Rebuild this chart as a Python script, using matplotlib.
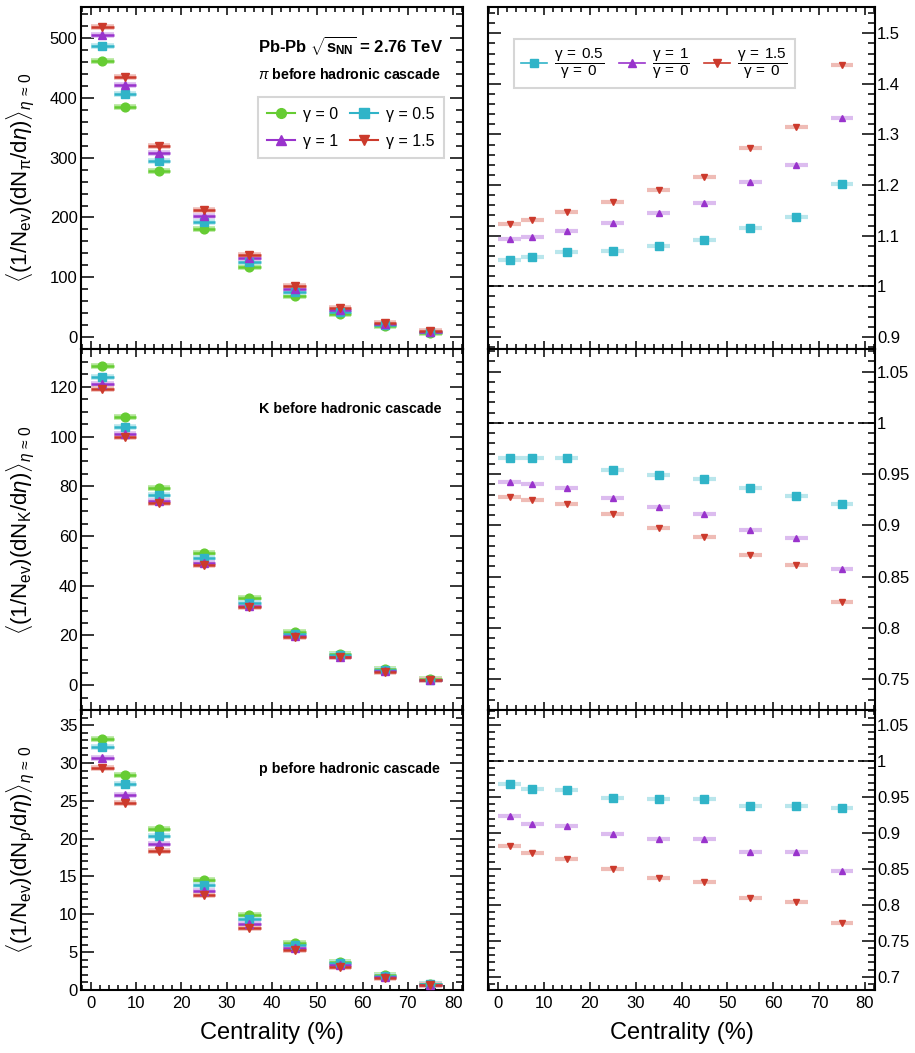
import numpy as np
import matplotlib
matplotlib.use('Agg')
import matplotlib.pyplot as plt
from matplotlib.ticker import MultipleLocator, FuncFormatter
from matplotlib.lines import Line2D

plt.rcParams['font.family'] = ['Liberation Sans', 'DejaVu Sans']
plt.rcParams['mathtext.fontset'] = 'custom'
plt.rcParams['mathtext.rm'] = 'Liberation Sans'
plt.rcParams['mathtext.it'] = 'Liberation Sans:italic'
plt.rcParams['mathtext.bf'] = 'Liberation Sans:bold'

# centrality bin centres (%) and half width of the drawn bins
centrality = np.array([2.5, 7.5, 15, 25, 35, 45, 55, 65, 75])
half_width = 2.5

gamma_labels = ['0', '0.5', '1', '1.5']
colors = ['#66cc33', '#30b4c8', '#9933cc', '#cc3a2c']
light_colors = ['#b3e699', '#b9e6ec', '#dcbcef', '#efbcb6']
markers = ['o', 's', '^', 'v']

# pion yields, gamma = 0, 0.5, 1, 1.5
pion = [
    [462, 385, 278, 181, 117, 69, 38.5, 18.9, 6.5],
    [486, 406, 295, 192, 125, 75, 42.3, 20.6, 7.8],
    [505, 422, 308, 203, 132, 80, 45.6, 22.2, 8.6],
    [519, 435, 319, 212, 137, 85, 48.5, 23.4, 9.4],
]
# kaon yields
kaon = [
    [128.4, 108.0, 79.4, 53.2, 34.9, 21.4, 12.5, 6.3, 2.3],
    [124.0, 103.9, 76.4, 51.0, 32.9, 20.4, 12.0, 5.9, 2.2],
    [121.0, 101.2, 74.1, 49.2, 31.8, 19.7, 11.5, 5.7, 2.05],
    [119.3, 99.9, 73.1, 48.5, 31.3, 19.4, 11.2, 5.4, 1.95],
]
# proton yields
proton = [
    [33.2, 28.4, 21.3, 14.6, 9.9, 6.25, 3.75, 1.95, 0.8],
    [32.1, 27.2, 20.4, 13.9, 9.4, 5.95, 3.55, 1.85, 0.75],
    [30.6, 25.8, 19.3, 13.1, 8.7, 5.5, 3.3, 1.7, 0.7],
    [29.3, 24.7, 18.4, 12.5, 8.2, 5.3, 3.1, 1.6, 0.62],
]

# ratios to gamma = 0 (gamma = 0.5, 1, 1.5)
pion_ratio = [
    [1.052, 1.058, 1.068, 1.070, 1.079, 1.091, 1.115, 1.137, 1.202],
    [1.093, 1.097, 1.110, 1.126, 1.144, 1.164, 1.207, 1.240, 1.332],
    [1.123, 1.131, 1.146, 1.166, 1.190, 1.215, 1.273, 1.315, 1.438],
]
kaon_ratio = [
    [0.966, 0.9656, 0.966, 0.954, 0.949, 0.9457, 0.936, 0.929, 0.921],
    [0.9427, 0.9405, 0.9366, 0.9266, 0.918, 0.9116, 0.8954, 0.8876, 0.8573],
    [0.928, 0.9252, 0.921, 0.9112, 0.8973, 0.8888, 0.871, 0.8615, 0.8252],
]
proton_ratio = [
    [0.968, 0.961, 0.9596, 0.949, 0.947, 0.947, 0.937, 0.937, 0.9346],
    [0.9234, 0.912, 0.9095, 0.8988, 0.8919, 0.891, 0.8738, 0.8733, 0.8465],
    [0.8817, 0.8724, 0.8632, 0.850, 0.8372, 0.832, 0.8098, 0.8042, 0.7742],
]

W, H = 915, 1053
fig = plt.figure(figsize=(W / 100, H / 100), dpi=100)


def box(x0, y0, x1, y1):
    return [x0 / W, 1 - y1 / H, (x1 - x0) / W, (y1 - y0) / H]


rows = [(7, 349), (349, 710), (710, 990)]
axes = []
for (y0, y1) in rows:
    axl = fig.add_axes(box(81, y0, 463, y1))
    axr = fig.add_axes(box(488, y0, 875, y1))
    axes.append((axl, axr))

fmt = FuncFormatter(lambda v, p: '%g' % round(v, 3))


def style(ax, ylim, major, minor, right, bottom):
    ax.set_xlim(-2.2, 82.2)
    ax.set_ylim(*ylim)
    ax.xaxis.set_major_locator(MultipleLocator(10))
    ax.xaxis.set_minor_locator(MultipleLocator(2))
    ax.yaxis.set_major_locator(MultipleLocator(major))
    ax.yaxis.set_minor_locator(MultipleLocator(minor))
    ax.yaxis.set_major_formatter(fmt)
    ax.tick_params(which='both', direction='in', top=True, bottom=True,
                   left=True, right=True, width=1.1, colors='black',
                   labelsize=12)
    ax.tick_params(axis='y', which='major', length=9.5, pad=2.5)
    ax.tick_params(axis='y', which='minor', length=5)
    ax.tick_params(axis='x', which='major', length=6, pad=4.5)
    ax.tick_params(axis='x', which='minor', length=3.5)
    if right:
        ax.tick_params(axis='y', labelleft=False, labelright=True, pad=1.5)
    if not bottom:
        ax.tick_params(axis='x', labelbottom=False)
    else:
        ax.set_xlabel('Centrality (%)', fontsize=17, labelpad=8)
    for s in ax.spines.values():
        s.set_linewidth(1.5)


def draw_yields(ax, data, ms):
    for i in range(4):
        y = np.array(data[i])
        ax.hlines(y, centrality - half_width, centrality + half_width,
                  color=light_colors[i], lw=4, zorder=2)
        ax.hlines(y, centrality - half_width, centrality + half_width,
                  color=colors[i], lw=1.8, zorder=3)
        ax.plot(centrality, y, ls='none', marker=markers[i], ms=ms,
                color=colors[i], mec=colors[i], zorder=4)


def draw_ratios(ax, data):
    for i in range(3):
        y = np.array(data[i])
        ax.hlines(y, centrality - half_width, centrality + half_width,
                  color=light_colors[i + 1], lw=3, zorder=2)
        ax.plot(centrality, y, ls='none', marker=markers[i + 1],
                ms=5.5 if i == 0 else 5, color=colors[i + 1], zorder=4)
    ax.axhline(1.0, color='black', lw=1.2, ls=(0, (3.5, 2.5)), zorder=1)


ylabel_tmpl = (r'$\mathrm{\langle(1/N_{ev})(dN_{%s}/d}\eta\mathrm{)\rangle}'
               r'_{\eta\,\approx\,0}$')

# pions
axl, axr = axes[0]
draw_yields(axl, pion, 6.3)
draw_ratios(axr, pion_ratio)
style(axl, (-20, 552), 100, 20, False, False)
style(axr, (0.876, 1.552), 0.1, 0.02, True, False)
axl.set_ylabel(ylabel_tmpl % r'\pi', fontsize=16)
axl.text(0.463, 0.868, r'Pb-Pb $\mathbf{\sqrt{s_{NN}}}$ = 2.76 TeV',
         transform=axl.transAxes, fontsize=12, fontweight='bold',
         va='baseline')
axl.text(0.463, 0.789, r'$\pi$ before hadronic cascade',
         transform=axl.transAxes, fontsize=10.3, fontweight='bold',
         va='baseline')

handles = [Line2D([], [], color=colors[i], marker=markers[i], ms=7, lw=1.5)
           for i in range(4)]
labels = ['γ = ' + g for g in gamma_labels]
order = [0, 2, 1, 3]
leg = axl.legend([handles[i] for i in order], [labels[i] for i in order],
                 ncol=2, loc='upper left', bbox_to_anchor=(0.463, 0.737),
                 fontsize=11.5, frameon=True, fancybox=False,
                 handlelength=1.7, handletextpad=0.5, columnspacing=0.8,
                 borderpad=0.6, labelspacing=0.75, borderaxespad=0)
leg.get_frame().set_edgecolor('#cccccc')
leg.get_frame().set_linewidth(1.5)

rhandles = [Line2D([], [], color=colors[i], marker=markers[i], ms=6, lw=1.2)
            for i in range(1, 4)]
rlabels = [r'$\dfrac{\mathrm{\gamma\:=\:%s}}{\mathrm{\gamma\:=\:0}}$' % g
           for g in gamma_labels[1:]]
rleg = axr.legend(rhandles, rlabels, ncol=3, loc='upper left',
                  bbox_to_anchor=(0.067, 0.906), fontsize=11, frameon=True,
                  fancybox=False, handlelength=1.7, handletextpad=0.5,
                  columnspacing=0.9, borderpad=0.45, borderaxespad=0)
rleg.get_frame().set_edgecolor('#cccccc')
rleg.get_frame().set_linewidth(1.5)

# kaons
axl, axr = axes[1]
draw_yields(axl, kaon, 6.3)
draw_ratios(axr, kaon_ratio)
style(axl, (-10, 135.2), 20, 5, False, False)
style(axr, (0.72, 1.072), 0.05, 0.01, True, False)
axl.set_ylabel(ylabel_tmpl % 'K', fontsize=16)
axl.text(0.465, 0.823, 'K before hadronic cascade', transform=axl.transAxes,
         fontsize=10.3, fontweight='bold', va='baseline')

# protons
axl, axr = axes[2]
draw_yields(axl, proton, 6.3)
draw_ratios(axr, proton_ratio)
style(axl, (0, 37), 5, 1, False, True)
style(axr, (0.6815, 1.071), 0.05, 0.01, True, True)
axl.set_ylabel(ylabel_tmpl % 'p', fontsize=16)
axl.text(0.465, 0.775, 'p before hadronic cascade', transform=axl.transAxes,
         fontsize=10.3, fontweight='bold', va='baseline')

for axl, axr in axes:
    axl.yaxis.set_label_coords(-0.115, 0.5)

fig.savefig('out.png', dpi=100)
